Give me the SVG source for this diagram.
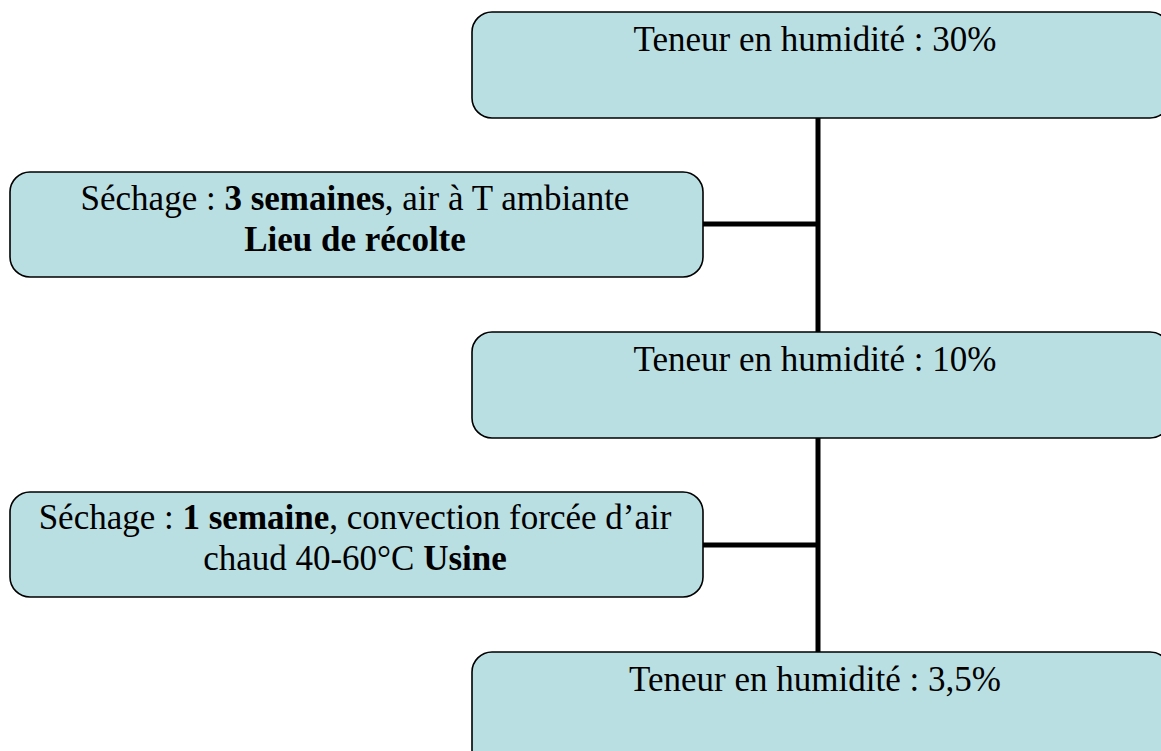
<svg xmlns="http://www.w3.org/2000/svg" width="1161" height="751" viewBox="0 0 1161 751">
<style>
.box{fill:#b9dfe3;stroke:#000;stroke-width:1.6}
.t{font-family:"Liberation Serif","Times New Roman",serif;font-size:35px;fill:#000;text-anchor:middle}
.b{font-weight:bold}
.c{stroke:#000;stroke-width:5;fill:none}
</style>
<rect width="1161" height="751" fill="#fff"/>
<g id="connectors">
<line class="c" x1="818" y1="118" x2="818" y2="653"/>
<line class="c" x1="703" y1="224" x2="818" y2="224"/>
<line class="c" x1="703" y1="545" x2="818" y2="545"/>
</g>
<g id="n1">
<rect class="box" x="472" y="12" width="698" height="106" rx="20"/>
<text class="t" x="815" y="51">Teneur en humidité : 30%</text>
</g>
<g id="n2">
<rect class="box" x="10" y="172" width="693" height="105" rx="20"/>
<text class="t" x="355" y="210">Séchage : <tspan class="b">3 semaines</tspan>, air à T ambiante</text>
<text class="t b" x="355" y="251">Lieu de récolte</text>
</g>
<g id="n3">
<rect class="box" x="472" y="332" width="698" height="106" rx="20"/>
<text class="t" x="815" y="371">Teneur en humidité : 10%</text>
</g>
<g id="n4">
<rect class="box" x="10" y="492" width="693" height="105" rx="20"/>
<text class="t" x="355" y="529">Séchage : <tspan class="b">1 semaine</tspan>, convection forcée d’air</text>
<text class="t" x="355" y="570">chaud 40-60°C <tspan class="b">Usine</tspan></text>
</g>
<g id="n5">
<rect class="box" x="472" y="652" width="698" height="120" rx="20"/>
<text class="t" x="815" y="691">Teneur en humidité : 3,5%</text>
</g>
</svg>
